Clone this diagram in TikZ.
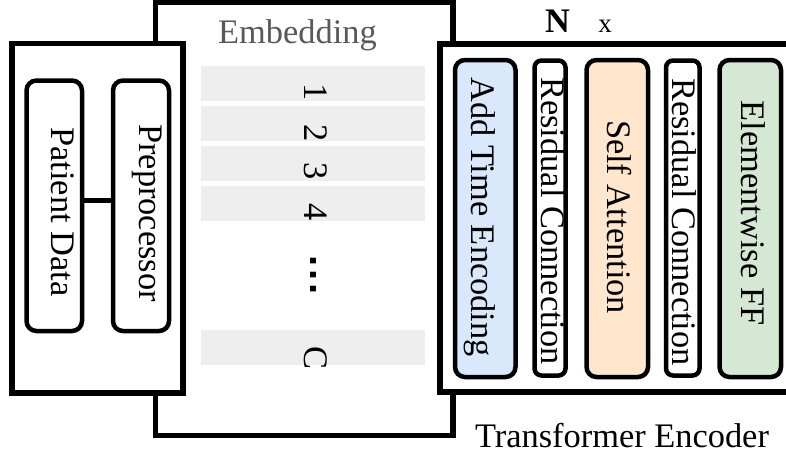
\documentclass[tikz,border=0pt]{standalone}
\usepackage{fontspec}
\setmainfont{Liberation Serif}
\newfontfamily\dotfont{Liberation Sans}
\definecolor{barGray}{HTML}{EEEEEE}
\definecolor{labelGray}{HTML}{595959}
\definecolor{timeBlue}{HTML}{DAE8FC}
\definecolor{attnPeach}{HTML}{FFE6CC}
\definecolor{ffGreen}{HTML}{D5E8D4}
\begin{document}
\begin{tikzpicture}[x=1pt,y=-1pt,
  frame/.style={draw, line width=5.5pt, fill=white, inner sep=0pt},
  block/.style={draw, line width=4.5pt, rounded corners=10pt, inner sep=0pt},
  thinblock/.style={block, rounded corners=7pt},
  bar/.style={fill=barGray, inner sep=0pt, minimum width=224pt, minimum height=35pt},
  big/.style={font=\fontsize{34.4}{40}\selectfont, inner sep=0pt},
  vlabel/.style={big, rotate=-90, anchor=base},
]
\useasboundingbox (0,0) rectangle (786,455);
\clip (0,0) rectangle (786,455);

% embedding panel (behind the other two panels)
\node[frame, minimum width=297.5pt, minimum height=433pt] (emb) at (304.25,219) {};
\node[big, text=labelGray, anchor=base] (embLabel) at (297.5,43) {Embedding};
\node[bar] (bar1) at (313,83.5) {};
\node[bar] (bar2) at (313,123.5) {};
\node[bar] (bar3) at (313,163.5) {};
\node[bar] (bar4) at (313,203.5) {};
\node[bar] (barC) at (313,347.5) {};
\node[vlabel] (t1) at (304,92) {1};
\node[vlabel] (t2) at (304,133) {2};
\node[vlabel] (t3) at (304,171) {3};
\node[vlabel] (t4) at (304,212) {4};
\node[vlabel, font=\fontsize{40}{44}\dotfont\bfseries] (tdots) at (310,275) {.\kern3pt.\kern3pt.};
\node[vlabel] (tC) at (304,358) {C};

% input panel
\node[frame, minimum width=171pt, minimum height=349.5pt] (inp) at (97.5,218.25) {};
\node[block, minimum width=55.5pt, minimum height=250.5pt] (pd) at (54.25,205.75) {};
\node[block, minimum width=56pt, minimum height=250.5pt] (pp) at (141,205.75) {};
\draw[line width=4.5pt] ([yshift=5.5pt]pd.east) -- ([yshift=5.5pt]pp.west);
\node[vlabel] (pdText) at (51,212) {Patient Data};
\node[vlabel] (ppText) at (139,213) {Preprocessor};

% transformer encoder panel
\node[frame, minimum width=390pt, minimum height=348pt] (enc) at (635,218) {};
\node[block, fill=timeBlue, minimum width=60.5pt, minimum height=317pt] (addT) at (485.25,218.5) {};
\node[thinblock, fill=white, minimum width=31pt, minimum height=315pt] (res1) at (550,218) {};
\node[block, fill=attnPeach, minimum width=61.5pt, minimum height=317pt] (selfA) at (617.25,218.5) {};
\node[thinblock, fill=white, minimum width=33.5pt, minimum height=315pt] (res2) at (682.75,218) {};
\node[block, fill=ffGreen, minimum width=61.5pt, minimum height=317pt] (eff) at (750.25,218.5) {};
\node[vlabel] (addTText) at (471,217) {Add Time Encoding};
\node[vlabel] (res1Text) at (541,221) {Residual Connection};
\node[vlabel] (selfAText) at (607,217) {Self Attention};
\node[vlabel] (res2Text) at (672,222) {Residual Connection};
\node[vlabel] (effText) at (741,213) {Elementwise FF};

\node[big, font=\fontsize{34.4}{40}\selectfont\bfseries, anchor=base] (nRep) at (557.5,32) {N};
\node[font=\fontsize{27}{32}\selectfont, inner sep=0pt, anchor=base] (xRep) at (605,32) {x};
\node[big, anchor=base] (encLabel) at (622,447) {Transformer Encoder};
\end{tikzpicture}
\end{document}
